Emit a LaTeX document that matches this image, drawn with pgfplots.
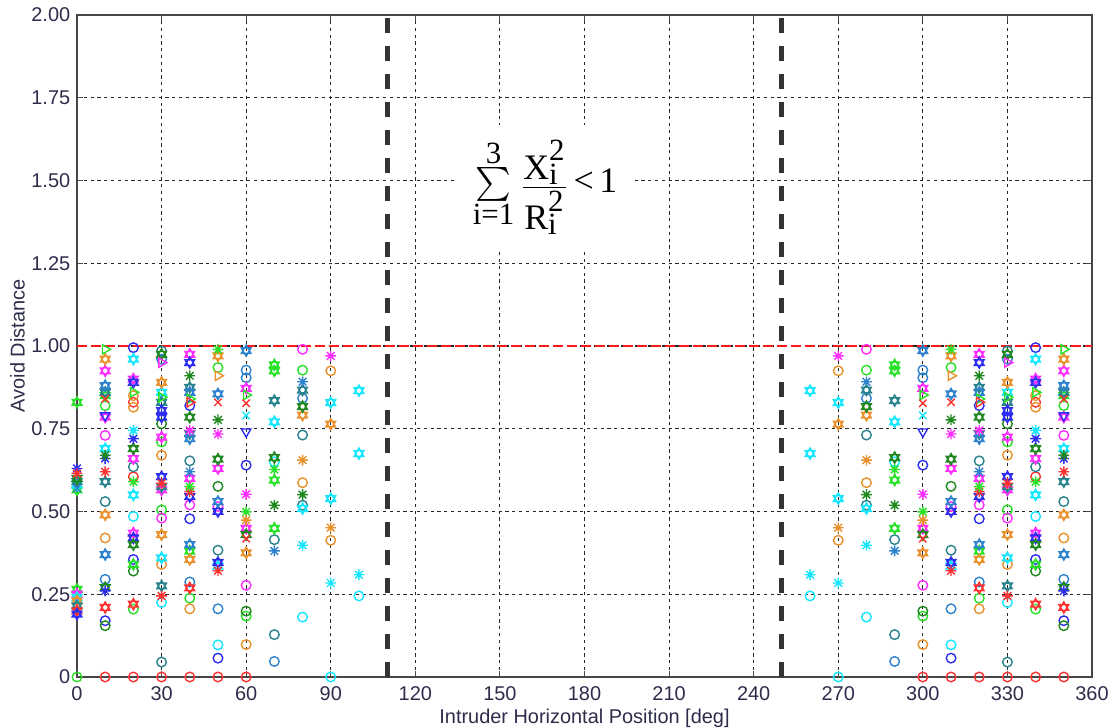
\documentclass[border=0pt]{standalone}
\usepackage{pgfplots}
\pgfplotsset{compat=1.18}
\usepackage{fontspec}
\setmainfont{Liberation Sans}
\newfontfamily\cmb{Liberation Serif}
\definecolor{cR}{RGB}{255,50,50}
\definecolor{cG}{RGB}{40,225,40}
\definecolor{cB}{RGB}{45,45,240}
\definecolor{cC}{RGB}{20,230,255}
\definecolor{cM}{RGB}{255,45,255}
\definecolor{cO}{RGB}{232,145,45}
\definecolor{cDG}{RGB}{30,135,30}
\definecolor{cT}{RGB}{40,130,140}
\definecolor{cSB}{RGB}{45,130,205}
\definecolor{txt}{RGB}{45,45,75}
\pgfdeclareplotmark{hexa}{%
  \pgfpathmoveto{\pgfqpointpolar{90}{\pgfplotmarksize}}%
  \pgfpathlineto{\pgfqpointpolar{210}{\pgfplotmarksize}}%
  \pgfpathlineto{\pgfqpointpolar{330}{\pgfplotmarksize}}%
  \pgfpathclose
  \pgfpathmoveto{\pgfqpointpolar{270}{\pgfplotmarksize}}%
  \pgfpathlineto{\pgfqpointpolar{30}{\pgfplotmarksize}}%
  \pgfpathlineto{\pgfqpointpolar{150}{\pgfplotmarksize}}%
  \pgfpathclose
  \pgfusepathqstroke}
\pgfdeclareplotmark{asteight}{%
  \pgfpathmoveto{\pgfqpointpolar{0}{\pgfplotmarksize}}\pgfpathlineto{\pgfqpointpolar{180}{\pgfplotmarksize}}%
  \pgfpathmoveto{\pgfqpointpolar{90}{\pgfplotmarksize}}\pgfpathlineto{\pgfqpointpolar{270}{\pgfplotmarksize}}%
  \pgfpathmoveto{\pgfqpointpolar{45}{\pgfplotmarksize}}\pgfpathlineto{\pgfqpointpolar{225}{\pgfplotmarksize}}%
  \pgfpathmoveto{\pgfqpointpolar{135}{\pgfplotmarksize}}\pgfpathlineto{\pgfqpointpolar{315}{\pgfplotmarksize}}%
  \pgfusepathqstroke}
\newcommand{\cs}[1]{\hbox{\cmb\fontsize{18}{20}\selectfont #1}}
\newcommand{\cl}[1]{\hbox{\cmb\fontsize{15.5}{17}\selectfont #1}}
\pgfplotsset{
  circ/.style={only marks, mark=o, mark size=2.4bp, mark options={line width=0.7bp, draw=#1}},
  hex/.style={only marks, mark=hexa, mark size=2.8bp, mark options={line width=0.7bp, draw=#1}},
  ast/.style={only marks, mark=asteight, mark size=2.7bp, mark options={line width=0.7bp, draw=#1}},
  tri/.style={only marks, mark=triangle, mark size=2.7bp, mark options={line width=0.7bp, draw=#1, fill=none, rotate=270}},
  xm/.style={only marks, mark=x, mark size=2.6bp, mark options={line width=0.7bp, draw=#1}},
}
\begin{document}
\begin{tikzpicture}
\begin{axis}[
  at={(0,0)}, anchor=south west,
  scale only axis, width=507.5bp, height=331bp,
  xmin=0, xmax=360, ymin=0, ymax=2,
  clip=false,
  xtick={0,30,...,360},
  ytick={0,0.25,0.5,0.75,1,1.25,1.5,1.75,2},
  yticklabels={0,0.25,0.50,0.75,1.00,1.25,1.50,1.75,2.00},
  tick align=inside, major tick length=3bp,
  tick style={gray!60!black, line width=0.5bp},
  axis line style={gray!55!black, line width=0.8bp},
  grid=major,
  major grid style={black!85, line width=0.55bp, dash pattern=on 1.6bp off 1.8bp},
  ticklabel style={font=\fontsize{10}{12}\selectfont, text=txt},
  /pgf/number format/assume math mode=true,
  xticklabel style={inner sep=0pt, anchor=north, yshift=-4.5bp},
  yticklabel style={inner sep=0pt, anchor=east, xshift=-3.2bp},
  xlabel={Intruder Horizontal Position [deg]},
  ylabel={Avoid Distance},
  label style={font=\fontsize{10}{12}\selectfont, text=txt},
  xlabel style={at={(axis description cs:0.5,-0.0625)}, anchor=center, inner sep=0pt},
  ylabel style={at={(axis description cs:-0.0585,0.5)}, anchor=center, inner sep=0pt, rotate=0},
]
% reference lines
\addplot[black!80, line width=2.6bp, dash pattern=on 7.5bp off 6.5bp] coordinates {(110,0) (110,2)};
\addplot[black!80, line width=2.6bp, dash pattern=on 7.5bp off 6.5bp] coordinates {(250,0) (250,2)};
\node[fill=white, minimum width=90bp, minimum height=62bp, inner sep=0pt] at (axis cs:166,1.479)
  {$\mathop{\hbox{\scalebox{1.7}{$\textstyle\sum$}}}\limits_{\cl{i=1}}^{\cl{3}}\, {\displaystyle\frac{\cs{X}_{\cl{i}}^{\cl{2}}}{\cs{R}_{\cl{i}}^{\cl{2}}}} \mathrel{\cs{<}} \cs{1}$};
% circles
\addplot[circ=cR] coordinates {(10,0)(20,0.83)(20,0.605)(20,0)(30,0)(40,0)(50,0)(60,0)
 (350,0)(340,0.83)(340,0.605)(340,0)(330,0)(320,0)(310,0)(300,0)};
\addplot[circ=cG] coordinates {(0,0)(10,0.82)(20,0.205)(30,0.71)(30,0.505)(40,0.238)(50,0.935)(60,0.184)(80,0.927)
 (350,0.82)(340,0.205)(330,0.71)(330,0.505)(320,0.238)(310,0.935)(300,0.184)(280,0.927)};
\addplot[circ=cB] coordinates {(10,0.17)(20,0.995)(20,0.355)(40,0.82)(40,0.478)(50,0.057)(60,0.64)
 (350,0.17)(340,0.995)(340,0.355)(320,0.82)(320,0.478)(310,0.057)(300,0.64)};
\addplot[circ=cC] coordinates {(20,0.485)(30,0.225)(50,0.097)(70,0.65)(80,0.181)(90,0)(100,0.245)
 (340,0.485)(330,0.225)(310,0.097)(290,0.65)(280,0.181)(270,0)(260,0.245)};
\addplot[circ=cM] coordinates {(10,0.73)(30,0.48)(40,0.52)(50,0.515)(60,0.277)(80,0.99)
 (350,0.73)(330,0.48)(320,0.52)(310,0.515)(300,0.277)(280,0.99)};
\addplot[circ=cO] coordinates {(10,0.42)(20,0.85)(20,0.815)(30,0.67)(30,0.34)(40,0.206)(60,0.098)(80,0.587)(90,0.925)(90,0.413)
 (350,0.42)(340,0.85)(340,0.815)(330,0.67)(330,0.34)(320,0.206)(300,0.098)(280,0.587)(270,0.925)(270,0.413)};
\addplot[circ=cDG] coordinates {(10,0.155)(20,0.32)(30,0.765)(50,0.576)(60,0.199)
 (350,0.155)(340,0.32)(330,0.765)(310,0.576)(300,0.199)};
\addplot[circ=cT] coordinates {(10,0.53)(20,0.635)(30,0.985)(30,0.045)(40,0.653)(50,0.383)(70,0.415)(70,0.128)(80,0.731)(80,0.519)
 (350,0.53)(340,0.635)(330,0.985)(330,0.045)(320,0.653)(310,0.383)(290,0.415)(290,0.128)(280,0.731)(280,0.519)};
\addplot[circ=cSB] coordinates {(10,0.295)(30,0.96)(40,0.287)(50,0.206)(60,0.927)(60,0.904)(70,0.047)(80,0.842)
 (350,0.295)(330,0.96)(320,0.287)(310,0.206)(300,0.927)(300,0.904)(290,0.047)(280,0.842)};
% hexagrams
\addplot[hex=cG] coordinates {(0,0.83)(0,0.565)(0,0.265)(10,0.85)(20,0.34)(40,0.38)(70,0.943)(70,0.925)(70,0.595)(70,0.449)
 (350,0.85)(340,0.34)(320,0.38)(290,0.943)(290,0.925)(290,0.595)(290,0.449)};
\addplot[hex=cM] coordinates {(0,0.25)(10,0.925)(10,0.785)(20,0.90)(20,0.66)(20,0.435)(30,0.725)(30,0.565)(40,0.975)(40,0.60)(50,0.63)(60,0.872)(60,0.449)
 (350,0.925)(350,0.785)(340,0.90)(340,0.66)(340,0.435)(330,0.725)(330,0.565)(320,0.975)(320,0.60)(310,0.63)(300,0.872)(300,0.449)};
\addplot[hex=cC] coordinates {(0,0.58)(0,0.24)(10,0.69)(20,0.96)(20,0.55)(30,0.86)(30,0.36)(50,0.335)(70,0.771)(80,0.509)(90,0.829)(90,0.539)(100,0.865)(100,0.675)
 (350,0.69)(340,0.96)(340,0.55)(330,0.86)(330,0.36)(310,0.335)(290,0.771)(280,0.509)(270,0.829)(270,0.539)(260,0.865)(260,0.675)};
\addplot[hex=cO] coordinates {(0,0.23)(10,0.96)(10,0.49)(30,0.89)(30,0.43)(40,0.355)(50,0.97)(60,0.375)(80,0.791)(90,0.764)
 (350,0.96)(350,0.49)(330,0.89)(330,0.43)(320,0.355)(310,0.97)(300,0.375)(280,0.791)(270,0.764)};
\addplot[hex=cT] coordinates {(0,0.59)(0,0.215)(10,0.86)(10,0.59)(30,0.83)(30,0.575)(30,0.275)(40,0.875)(40,0.735)(70,0.835)(80,0.867)
 (350,0.86)(350,0.59)(330,0.83)(330,0.575)(330,0.275)(320,0.875)(320,0.735)(290,0.835)(280,0.867)};
\addplot[hex=cR] coordinates {(0,0.20)(10,0.21)(20,0.22)(40,0.269)(350,0.21)(340,0.22)(320,0.269)};
\addplot[hex=cB] coordinates {(0,0.19)(20,0.89)(20,0.42)(30,0.805)(30,0.785)(30,0.605)(40,0.95)(40,0.545)(50,0.50)(50,0.346)
 (340,0.89)(340,0.42)(330,0.805)(330,0.785)(330,0.605)(320,0.95)(320,0.545)(310,0.50)(310,0.346)};
\addplot[hex=cDG] coordinates {(0,0.60)(10,0.27)(20,0.69)(20,0.40)(30,0.975)(40,0.785)(50,0.658)(60,0.43)(70,0.663)(80,0.817)
 (350,0.27)(340,0.69)(340,0.40)(330,0.975)(320,0.785)(310,0.658)(300,0.43)(290,0.663)(280,0.817)};
\addplot[hex=cSB] coordinates {(10,0.88)(10,0.37)(40,0.86)(40,0.72)(40,0.40)(50,0.855)(50,0.53)(60,0.986)
 (350,0.88)(350,0.37)(320,0.86)(320,0.72)(320,0.40)(310,0.855)(310,0.53)(300,0.986)};
% asterisks
\addplot[ast=cB] coordinates {(0,0.63)(10,0.66)(10,0.26)(20,0.72)(350,0.66)(350,0.26)(340,0.72)};
\addplot[ast=cR] coordinates {(0,0.615)(10,0.62)(30,0.585)(30,0.245)(40,0.56)(50,0.321)(350,0.62)(330,0.585)(330,0.245)(320,0.56)(310,0.321)};
\addplot[ast=cDG] coordinates {(10,0.67)(40,0.91)(50,0.777)(70,0.519)(80,0.551)(350,0.67)(320,0.91)(310,0.777)(290,0.519)(280,0.551)};
\addplot[ast=cC] coordinates {(20,0.745)(80,0.398)(90,0.284)(100,0.309)(340,0.745)(280,0.398)(270,0.284)(260,0.309)};
\addplot[ast=cG] coordinates {(20,0.59)(40,0.575)(50,0.99)(60,0.499)(70,0.627)(340,0.59)(320,0.575)(310,0.99)(300,0.499)(290,0.627)};
\addplot[ast=cM] coordinates {(40,0.745)(50,0.734)(60,0.552)(90,0.97)(320,0.745)(310,0.734)(300,0.552)(270,0.97)};
\addplot[ast=cO] coordinates {(60,0.474)(80,0.655)(90,0.451)(300,0.474)(280,0.655)(270,0.451)};
\addplot[ast=cSB] coordinates {(40,0.62)(70,0.381)(80,0.892)(320,0.62)(290,0.381)(280,0.892)};
% triangles
\addplot[tri=cG] coordinates {(10,0.99)(20,0.86)(30,0.845)(40,0.84)(60,0.852)(350,0.99)(340,0.86)(330,0.845)(320,0.84)(300,0.852)};
\addplot[tri=cM] coordinates {(30,0.95)(330,0.95)};
\addplot[tri=cO] coordinates {(50,0.91)(310,0.91)};
\addplot[tri=cR] coordinates {(40,0.83)(320,0.83)};
\addplot[only marks, mark=triangle, mark size=2.7bp, mark options={line width=0.7bp, draw=cB, fill=none, rotate=180}] coordinates {(10,0.79)(60,0.741)(350,0.79)(300,0.741)};
% x marks
\addplot[xm=cR] coordinates {(10,0.84)(50,0.83)(60,0.827)(60,0.418)(350,0.84)(310,0.83)(300,0.827)(300,0.418)};
\addplot[xm=cC] coordinates {(60,0.79)(300,0.79)};
\addplot[xm=cSB] coordinates {(0,0.57)};
% red limit line
\addplot[red!90!white, line width=1.2bp, dash pattern=on 5bp off 2bp] coordinates {(0,1) (360,1)};
\end{axis}
\pgfresetboundingbox
\path (-38.5bp,-25.5bp) rectangle (516.5bp,338.5bp);
\end{tikzpicture}
\end{document}
